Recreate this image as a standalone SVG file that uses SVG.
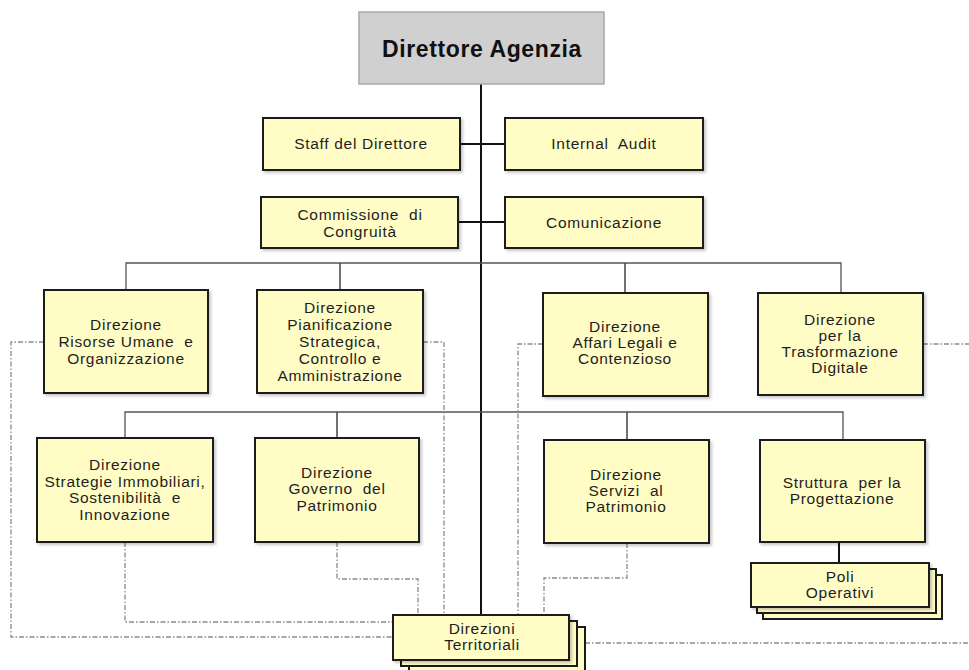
<svg xmlns="http://www.w3.org/2000/svg" width="969" height="670" viewBox="0 0 969 670">
<style>
.box{fill:#fffcc6;stroke:#1a1a1a;stroke-width:2;filter:url(#sh)}
.back{fill:#fffcc6;stroke:#1a1a1a;stroke-width:2}
.t{font-family:"Liberation Sans",Arial,sans-serif;font-size:15.5px;fill:#1e1e1e;text-anchor:middle;letter-spacing:0.7px;white-space:pre}
.trunk{stroke:#111;stroke-width:2;fill:none}
.bar{stroke:#555;stroke-width:1.3;fill:none}
.drop{stroke:#444;stroke-width:1.5;fill:none}
.dd{stroke:#8a8a8a;stroke-width:1.3;fill:none;stroke-dasharray:5 2 1.5 2}
</style>
<defs>
<filter id="sh" x="-10%" y="-10%" width="130%" height="130%">
<feDropShadow dx="2" dy="2" stdDeviation="1.5" flood-color="#000" flood-opacity="0.22"/>
</filter>
</defs>
<rect width="969" height="670" fill="#ffffff"/>
<g id="connectors">
<line class="trunk" x1="481" y1="84" x2="481" y2="615"/>
<line class="trunk" x1="460" y1="144" x2="505" y2="144"/>
<line class="trunk" x1="458" y1="222" x2="505" y2="222"/>
<path class="bar" d="M126 290 V263 H841 V293"/>
<path class="drop" d="M340 263 V290 M625 263 V293"/>
<path class="bar" d="M125 438 V412 H843 V440"/>
<path class="drop" d="M337 412 V438 M627 412 V440"/>
<line class="trunk" x1="839" y1="542" x2="839" y2="563"/>
<path class="dd" d="M44 342 H11 V637 H393"/>
<path class="dd" d="M125 542 V622 H393"/>
<path class="dd" d="M337 542 V579 H418 V615"/>
<path class="dd" d="M423 342 H444 V615"/>
<path class="dd" d="M543 344 H518 V615"/>
<path class="dd" d="M627 543 V578 H544 V615"/>
<path class="dd" d="M923 344 H969"/>
<path class="dd" d="M585 643 H969"/>
</g>
<g id="direttore">
<rect x="359" y="12" width="245" height="72" fill="#d0d0d0" stroke="#a8a8a8" stroke-width="1.5"/>
<text x="482" y="57" font-family="'Liberation Sans',Arial,sans-serif" font-size="23" font-weight="bold" fill="#111" text-anchor="middle" letter-spacing="0.6">Direttore Agenzia</text>
</g>
<g id="staff">
<rect class="box" x="263" y="118" width="197" height="52"/>
<text class="t" x="361" y="149">Staff del Direttore</text>
</g>
<g id="audit">
<rect class="box" x="505" y="118" width="198" height="52"/>
<text class="t" x="604" y="149">Internal  Audit</text>
</g>
<g id="commissione">
<rect class="box" x="261" y="197" width="197" height="51"/>
<text class="t" x="360" y="220">Commissione  di</text>
<text class="t" x="360" y="237">Congruità</text>
</g>
<g id="comunicazione">
<rect class="box" x="505" y="197" width="198" height="51"/>
<text class="t" x="604" y="228">Comunicazione</text>
</g>
<g id="risorse">
<rect class="box" x="44" y="290" width="164" height="103"/>
<text class="t" x="126" y="330">Direzione</text>
<text class="t" x="126" y="347">Risorse Umane  e</text>
<text class="t" x="126" y="364">Organizzazione</text>
</g>
<g id="pianificazione">
<rect class="box" x="257" y="290" width="166" height="103"/>
<text class="t" x="340" y="313">Direzione</text>
<text class="t" x="340" y="330">Pianificazione</text>
<text class="t" x="340" y="347">Strategica,</text>
<text class="t" x="340" y="364">Controllo e</text>
<text class="t" x="340" y="381">Amministrazione</text>
</g>
<g id="affari">
<rect class="box" x="543" y="293" width="165" height="103"/>
<text class="t" x="625" y="332">Direzione</text>
<text class="t" x="625" y="348">Affari Legali e</text>
<text class="t" x="625" y="364">Contenzioso</text>
</g>
<g id="trasformazione">
<rect class="box" x="758" y="293" width="165" height="102"/>
<text class="t" x="840" y="325">Direzione</text>
<text class="t" x="840" y="341">per la</text>
<text class="t" x="840" y="357">Trasformazione</text>
<text class="t" x="840" y="373">Digitale</text>
</g>
<g id="strategie">
<rect class="box" x="37" y="438" width="176" height="104"/>
<text class="t" x="125" y="470">Direzione</text>
<text class="t" x="125" y="487">Strategie Immobiliari,</text>
<text class="t" x="125" y="503">Sostenibilità  e</text>
<text class="t" x="125" y="520">Innovazione</text>
</g>
<g id="governo">
<rect class="box" x="255" y="438" width="164" height="104"/>
<text class="t" x="337" y="478">Direzione</text>
<text class="t" x="337" y="494">Governo  del</text>
<text class="t" x="337" y="511">Patrimonio</text>
</g>
<g id="servizi">
<rect class="box" x="544" y="440" width="165" height="103"/>
<text class="t" x="626" y="480">Direzione</text>
<text class="t" x="626" y="496">Servizi  al</text>
<text class="t" x="626" y="512">Patrimonio</text>
</g>
<g id="struttura">
<rect class="box" x="760" y="440" width="165" height="102"/>
<text class="t" x="842" y="488">Struttura  per la</text>
<text class="t" x="842" y="504">Progettazione</text>
</g>
<g id="poli">
<rect class="back" x="763" y="575" width="179" height="44"/>
<rect class="back" x="757" y="569" width="179" height="44"/>
<rect class="box" x="751" y="563" width="178" height="44"/>
<text class="t" x="840" y="582">Poli</text>
<text class="t" x="840" y="598">Operativi</text>
</g>
<g id="territoriali">
<rect class="back" x="409" y="627" width="176" height="46"/>
<rect class="back" x="401" y="621" width="176" height="45"/>
<rect class="box" x="393" y="615" width="176" height="45"/>
<text class="t" x="482" y="634">Direzioni</text>
<text class="t" x="482" y="650">Territoriali</text>
</g>
</svg>
